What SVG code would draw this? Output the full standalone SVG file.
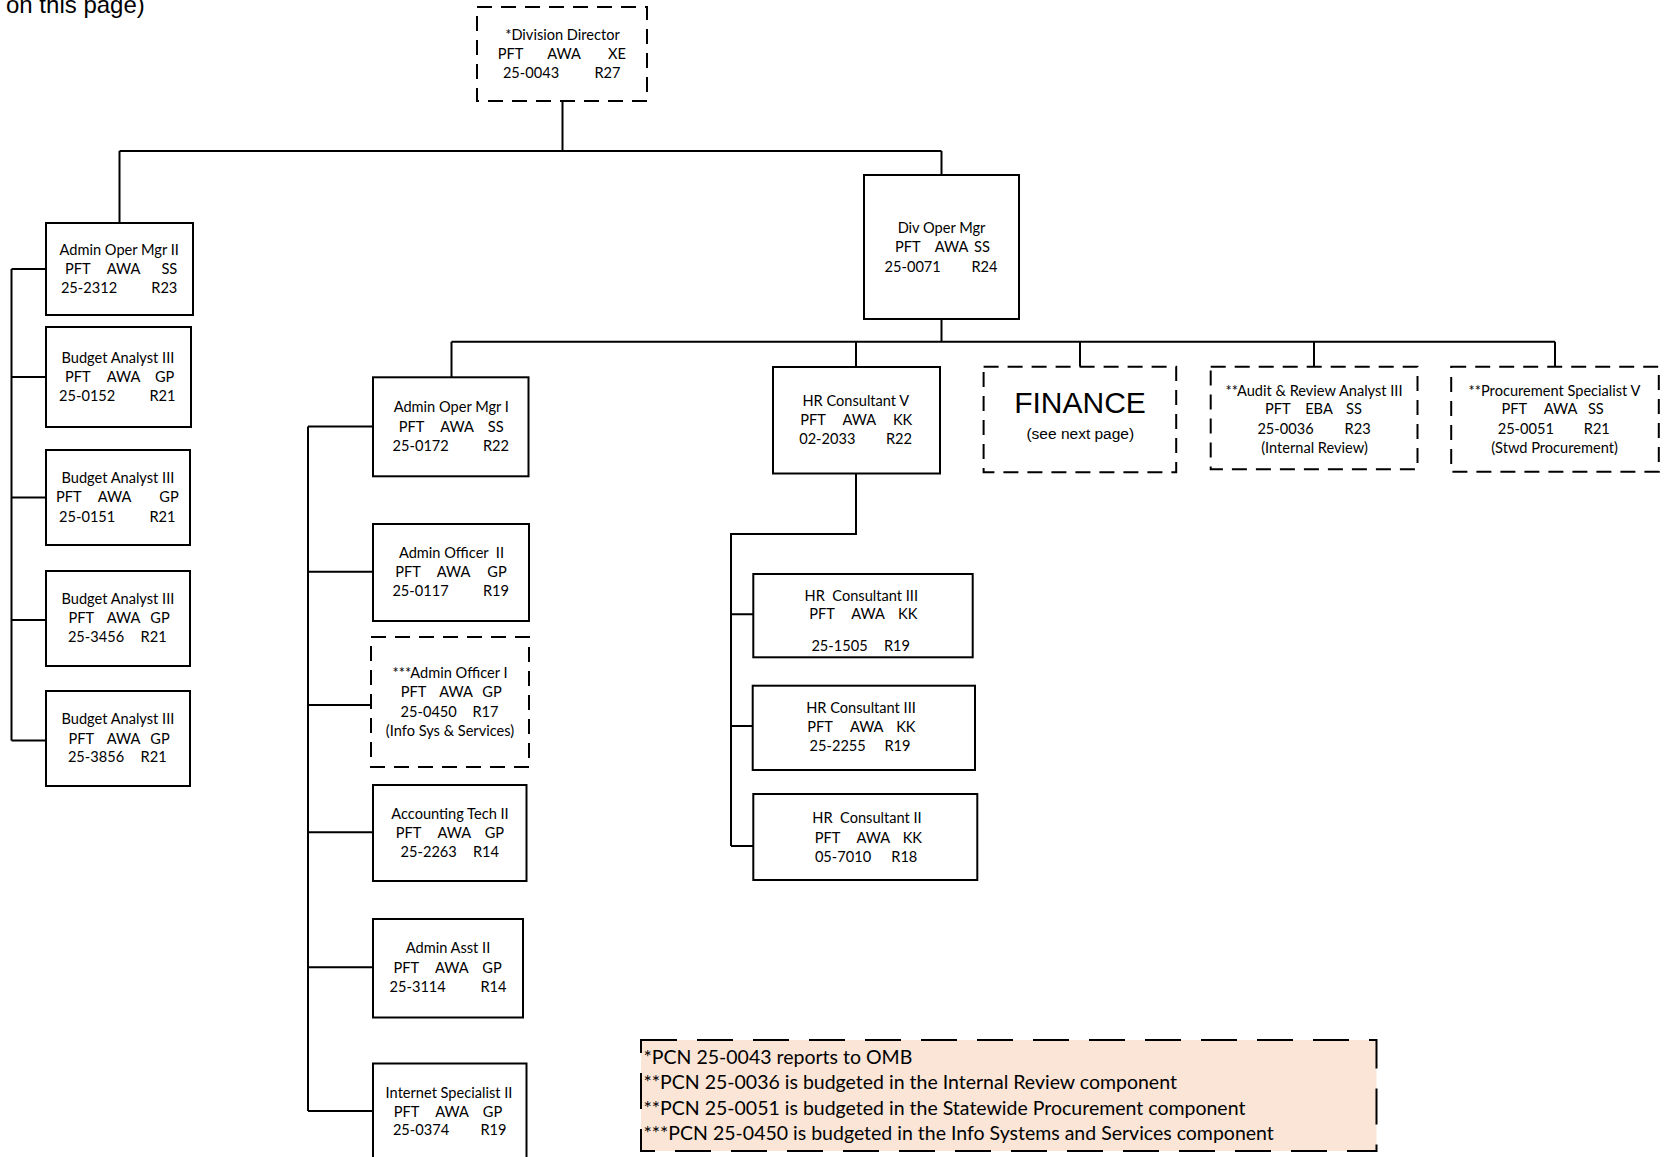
<svg xmlns="http://www.w3.org/2000/svg" width="1669" height="1157" viewBox="0 0 1669 1157">
<style>
.bg{fill:#fff}
.box{fill:#fff;stroke:#000;stroke-width:2}
.dash{stroke-dasharray:15 9}
.note{fill:#FBE5D6;stroke:#000;stroke-width:2;stroke-dasharray:36 20}
.conn{fill:none;stroke:#000;stroke-width:2}
.t{font-family:Lato,"Liberation Sans",sans-serif;font-size:14.6px;text-anchor:middle;fill:#000}
.a{font-family:"Liberation Sans",Arial,sans-serif;fill:#000}
.n{font-family:Lato,"Liberation Sans",sans-serif;font-size:19.5px;fill:#000}
</style>
<rect class="bg" x="0" y="0" width="1669" height="1157"/>
<text class="a" x="6" y="13" font-size="24">on this page)</text>

<g id="connectors">
<path class="conn" d="M562.5,101 V151 M119.5,151 H941.5 M119.5,151 V223 M941.5,151 V175"/>
<path class="conn" d="M11.5,269 V740.5 M11.5,269 H46 M11.5,377 H46 M11.5,497.5 H46 M11.5,620 H46 M11.5,740.5 H46"/>
<path class="conn" d="M941.5,319 V341.7 M451.5,341.7 H1555 M451.5,341.7 V377.3 M856,341.7 V366.7 M1080,341.7 V366.7 M1314,341.7 V366.7 M1555,341.7 V366.7"/>
<path class="conn" d="M308,426.6 V1111 M308,426.6 H373 M308,571.7 H373 M308,705 H371 M308,832.3 H373 M308,967.3 H373 M308,1111 H373"/>
<path class="conn" d="M856,473.3 V534 H731 V846 M731,614.3 H753.3 M731,726 H752.7 M731,846 H753.3"/>
</g>

<g id="division-director">
<rect class="box dash" x="477" y="7" width="170" height="94"/>
<text class="t" x="562.5" y="40">*Division Director</text>
<text class="t" y="59"><tspan x="510.5">PFT</tspan><tspan x="564">AWA</tspan><tspan x="617">XE</tspan></text>
<text class="t" y="78"><tspan x="531">25-0043</tspan><tspan x="607.5">R27</tspan></text>
</g>

<g id="admin-oper-mgr-ii">
<rect class="box" x="46" y="223" width="147" height="92"/>
<text class="t" x="119.2" y="255">Admin Oper Mgr II</text>
<text class="t" y="274"><tspan x="77.9">PFT</tspan><tspan x="123.5">AWA</tspan><tspan x="169.3">SS</tspan></text>
<text class="t" y="293"><tspan x="89">25-2312</tspan><tspan x="164.3">R23</tspan></text>
</g>

<g id="budget-analyst-0152">
<rect class="box" x="46" y="327" width="145" height="100"/>
<text class="t" x="117.9" y="363">Budget Analyst III</text>
<text class="t" y="382"><tspan x="77.9">PFT</tspan><tspan x="123.5">AWA</tspan><tspan x="164.6">GP</tspan></text>
<text class="t" y="401"><tspan x="87.2">25-0152</tspan><tspan x="162.5">R21</tspan></text>
</g>

<g id="budget-analyst-0151">
<rect class="box" x="46" y="450" width="144" height="95"/>
<text class="t" x="117.9" y="483">Budget Analyst III</text>
<text class="t" y="502"><tspan x="68.7">PFT</tspan><tspan x="114.5">AWA</tspan><tspan x="169">GP</tspan></text>
<text class="t" y="522"><tspan x="87.2">25-0151</tspan><tspan x="162.5">R21</tspan></text>
</g>

<g id="budget-analyst-3456">
<rect class="box" x="46" y="571" width="144" height="95"/>
<text class="t" x="117.9" y="604">Budget Analyst III</text>
<text class="t" y="623"><tspan x="81.2">PFT</tspan><tspan x="123.5">AWA</tspan><tspan x="160">GP</tspan></text>
<text class="t" y="642"><tspan x="96">25-3456</tspan><tspan x="153.6">R21</tspan></text>
</g>

<g id="budget-analyst-3856">
<rect class="box" x="46" y="691" width="144" height="95"/>
<text class="t" x="117.9" y="724">Budget Analyst III</text>
<text class="t" y="743.5"><tspan x="81.2">PFT</tspan><tspan x="123.5">AWA</tspan><tspan x="160">GP</tspan></text>
<text class="t" y="762"><tspan x="96">25-3856</tspan><tspan x="153.6">R21</tspan></text>
</g>

<g id="div-oper-mgr">
<rect class="box" x="864" y="175" width="155" height="144"/>
<text class="t" x="941.5" y="233">Div Oper Mgr</text>
<text class="t" y="252"><tspan x="907.8">PFT</tspan><tspan x="951.5">AWA</tspan><tspan x="982">SS</tspan></text>
<text class="t" y="272"><tspan x="912.7">25-0071</tspan><tspan x="984.5">R24</tspan></text>
</g>

<g id="admin-oper-mgr-i">
<rect class="box" x="373" y="377.3" width="155.5" height="99"/>
<text class="t" x="451.3" y="412">Admin Oper Mgr I</text>
<text class="t" y="431.5"><tspan x="411.5">PFT</tspan><tspan x="457">AWA</tspan><tspan x="495.7">SS</tspan></text>
<text class="t" y="451"><tspan x="420.7">25-0172</tspan><tspan x="496">R22</tspan></text>
</g>

<g id="admin-officer-ii">
<rect class="box" x="373" y="524" width="156" height="97"/>
<text class="t" x="451.5" y="557.5" xml:space="preserve">Admin Officer  II</text>
<text class="t" y="577"><tspan x="408">PFT</tspan><tspan x="453.5">AWA</tspan><tspan x="497">GP</tspan></text>
<text class="t" y="596"><tspan x="420.5">25-0117</tspan><tspan x="496">R19</tspan></text>
</g>

<g id="admin-officer-i">
<rect class="box dash" x="371" y="637" width="158" height="130"/>
<text class="t" x="450" y="678">***Admin Officer I</text>
<text class="t" y="697"><tspan x="413.5">PFT</tspan><tspan x="456">AWA</tspan><tspan x="492">GP</tspan></text>
<text class="t" y="716.5"><tspan x="428.7">25-0450</tspan><tspan x="485.5">R17</tspan></text>
<text class="t" x="450" y="736">(Info Sys &amp; Services)</text>
</g>

<g id="accounting-tech-ii">
<rect class="box" x="373" y="785" width="153.5" height="96"/>
<text class="t" x="450" y="819">Accounting Tech II</text>
<text class="t" y="838"><tspan x="408.5">PFT</tspan><tspan x="454.4">AWA</tspan><tspan x="494.4">GP</tspan></text>
<text class="t" y="857"><tspan x="428.7">25-2263</tspan><tspan x="486">R14</tspan></text>
</g>

<g id="admin-asst-ii">
<rect class="box" x="373" y="919" width="150" height="98.5"/>
<text class="t" x="448" y="953">Admin Asst II</text>
<text class="t" y="973"><tspan x="406.2">PFT</tspan><tspan x="451.8">AWA</tspan><tspan x="492">GP</tspan></text>
<text class="t" y="992"><tspan x="417.7">25-3114</tspan><tspan x="493.5">R14</tspan></text>
</g>

<g id="internet-specialist-ii">
<rect class="box" x="373" y="1063.5" width="153.5" height="110"/>
<text class="t" x="449" y="1097.5">Internet Specialist II</text>
<text class="t" y="1116.5"><tspan x="406.5">PFT</tspan><tspan x="452">AWA</tspan><tspan x="492.5">GP</tspan></text>
<text class="t" y="1135"><tspan x="421">25-0374</tspan><tspan x="493.5">R19</tspan></text>
</g>

<g id="hr-consultant-v">
<rect class="box" x="773" y="367" width="167" height="106.5"/>
<text class="t" x="855.8" y="405.5">HR Consultant V</text>
<text class="t" y="425"><tspan x="813">PFT</tspan><tspan x="859.3">AWA</tspan><tspan x="902.6">KK</tspan></text>
<text class="t" y="444"><tspan x="827.3">02-2033</tspan><tspan x="899">R22</tspan></text>
</g>

<g id="hr-consultant-iii-1505">
<rect class="box" x="753.3" y="574" width="219.4" height="83.3"/>
<text class="t" x="861.3" y="600.5" xml:space="preserve">HR  Consultant III</text>
<text class="t" y="619"><tspan x="822">PFT</tspan><tspan x="868">AWA</tspan><tspan x="907.7">KK</tspan></text>
<text class="t" y="650.5"><tspan x="839.5">25-1505</tspan><tspan x="897">R19</tspan></text>
</g>

<g id="hr-consultant-iii-2255">
<rect class="box" x="752.7" y="685.7" width="222.3" height="84.3"/>
<text class="t" x="861" y="712.5">HR Consultant III</text>
<text class="t" y="732"><tspan x="820">PFT</tspan><tspan x="866.7">AWA</tspan><tspan x="905.8">KK</tspan></text>
<text class="t" y="751"><tspan x="837.7">25-2255</tspan><tspan x="897.5">R19</tspan></text>
</g>

<g id="hr-consultant-ii">
<rect class="box" x="753.3" y="794" width="224" height="86"/>
<text class="t" x="867" y="822.5" xml:space="preserve">HR  Consultant II</text>
<text class="t" y="842.5"><tspan x="827.5">PFT</tspan><tspan x="873.3">AWA</tspan><tspan x="912.3">KK</tspan></text>
<text class="t" y="861.5"><tspan x="843">05-7010</tspan><tspan x="904.3">R18</tspan></text>
</g>

<g id="finance">
<rect class="box dash" x="983.6" y="366.7" width="192.6" height="105.6"/>
<text class="a" x="1080" y="412.7" font-size="30" text-anchor="middle">FINANCE</text>
<text class="a" x="1080.3" y="439" font-size="15.5" text-anchor="middle">(see next page)</text>
</g>

<g id="audit-review-analyst-iii">
<rect class="box dash" x="1210.7" y="366.7" width="206.8" height="102.6"/>
<text class="t" x="1314" y="395.7">**Audit &amp; Review Analyst III</text>
<text class="t" y="414.3"><tspan x="1277.8">PFT</tspan><tspan x="1319">EBA</tspan><tspan x="1354">SS</tspan></text>
<text class="t" y="434"><tspan x="1285.5">25-0036</tspan><tspan x="1357.6">R23</tspan></text>
<text class="t" x="1314.5" y="452.7">(Internal Review)</text>
</g>

<g id="procurement-specialist-v">
<rect class="box dash" x="1451.2" y="366.7" width="207.6" height="105"/>
<text class="t" x="1554.5" y="395.7">**Procurement Specialist V</text>
<text class="t" y="414.3"><tspan x="1514.4">PFT</tspan><tspan x="1560.5">AWA</tspan><tspan x="1595.8">SS</tspan></text>
<text class="t" y="434"><tspan x="1525.8">25-0051</tspan><tspan x="1596.8">R21</tspan></text>
<text class="t" x="1554.5" y="452.7">(Stwd Procurement)</text>
</g>

<g id="footnotes">
<rect class="note" x="641" y="1040" width="735.5" height="111"/>
<text class="n" x="643.5" y="1063.5">*PCN 25-0043 reports to OMB</text>
<text class="n" x="643.5" y="1089">**PCN 25-0036 is budgeted in the Internal Review component</text>
<text class="n" x="643.5" y="1114.5">**PCN 25-0051 is budgeted in the Statewide Procurement component</text>
<text class="n" x="643.5" y="1140">***PCN 25-0450 is budgeted in the Info Systems and Services component</text>
</g>
</svg>
